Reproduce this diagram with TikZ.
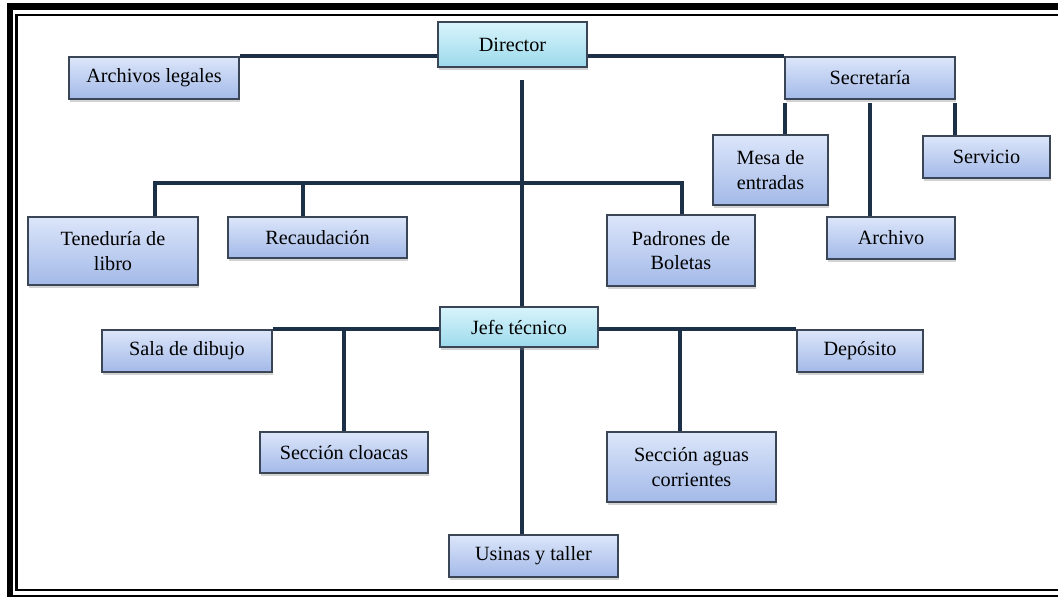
\documentclass[tikz,border=0pt]{standalone}
\usepackage{fontspec}
\setmainfont{Liberation Serif}
\usepackage{tikz}
\usetikzlibrary{positioning, calc, shadows, backgrounds}

\definecolor{linea}{HTML}{1C3048}
\definecolor{borde}{HTML}{3A4656}
\definecolor{azulA}{HTML}{DCE6FA}
\definecolor{azulB}{HTML}{A3B9E8}
\definecolor{cianA}{HTML}{D8F4FB}
\definecolor{cianB}{HTML}{9CDAEC}

\tikzset{
  caja/.style={draw=borde, line width=0.9pt, top color=azulA, bottom color=azulB,
    drop shadow={shadow xshift=0.6pt, shadow yshift=-1.6pt, opacity=0.35},
    align=center, inner sep=0pt, font=\fontsize{11.5}{14}\selectfont},
  jefe/.style={caja, top color=cianA, bottom color=cianB},
  rama/.style={draw=linea, line width=2.3pt}
}

\begin{document}
\begin{tikzpicture}[x=0.02cm, y=-0.02cm]
            \useasboundingbox (0,0) rectangle (1058,596);

            %marco
            \begin{scope}
              \clip (0,0) rectangle (1058,596);
              \draw[line width=3.8pt] (10,6.5) rectangle (1075,598);
              \draw[line width=1.3pt] (16.5,15) rectangle (1068,590);
            \end{scope}

            %cajas
            \node[jefe, minimum width=2.98cm, minimum height=0.9cm] (director) at (512.5,44.5) {Director};
            \node[caja, minimum width=3.4cm, minimum height=0.84cm] (archlegal) at (154,78) {Archivos legales};
            \node[caja, minimum width=3.4cm, minimum height=0.84cm] (secretaria) at (870,78) {Secretaría};
            \node[caja, minimum width=2.3cm, minimum height=1.4cm] (mesa) at (770.5,170) {Mesa de\\entradas};
            \node[caja, minimum width=2.54cm, minimum height=0.84cm] (servicio) at (986.5,157) {Servicio};
            \node[caja, minimum width=2.56cm, minimum height=0.84cm] (archivo) at (891,238) {Archivo};
            \node[caja, minimum width=3.4cm, minimum height=1.36cm] (teneduria) at (113,251) {Teneduría de\\libro};
            \node[caja, minimum width=3.58cm, minimum height=0.82cm] (recaudacion) at (317.5,237.5) {Recaudación};
            \node[caja, minimum width=2.96cm, minimum height=1.42cm] (padrones) at (681,250.5) {Padrones de\\Boletas};
            \node[jefe, minimum width=3.16cm, minimum height=0.8cm] (jefetec) at (519,327) {Jefe técnico};
            \node[caja, minimum width=3.4cm, minimum height=0.84cm] (sala) at (187,351) {Sala de dibujo};
            \node[caja, minimum width=3.36cm, minimum height=0.82cm] (cloacas) at (344,452.5) {Sección cloacas};
            \node[caja, minimum width=2.52cm, minimum height=0.84cm] (deposito) at (860,351) {Depósito};
            \node[caja, minimum width=3.38cm, minimum height=1.4cm] (aguas) at (691.5,467) {Sección aguas\\corrientes};
            \node[caja, minimum width=3.38cm, minimum height=0.84cm] (usinas) at (533.5,556) {Usinas y taller};

            %puntos de las ramas
            \coordinate (tronco) at (522,80);
            \coordinate (barra) at (0,183);
            \coordinate (tenup) at (155,0);
            \coordinate (recup) at (303,0);
            \coordinate (padup) at (682,0);
            \coordinate (secbajo) at (0,103);
            \coordinate (aguasup) at (680,0);

            %lineas
            \begin{scope}[on background layer]
              \draw[rama] (archlegal.north east) -- (secretaria.north west);
              \draw[rama] (tronco) -- (tronco |- usinas.north);
              \draw[rama] (tenup |- teneduria.north) -- (tenup |- barra) -- (padup |- barra) -- (padup |- padrones.north);
              \draw[rama] (recup |- barra) -- (recup |- recaudacion.north);
              \draw[rama] (secretaria.west |- secbajo) ++(1,0) -- ([xshift=0.02cm]secretaria.west |- mesa.north);
              \draw[rama] (secretaria.center |- secbajo) -- (secretaria.center |- archivo.north);
              \draw[rama] (secretaria.east |- secbajo) ++(-1,0) -- ([xshift=-0.02cm]secretaria.east |- servicio.north);
              \draw[rama] (sala.north east) -- (deposito.north west);
              \draw[rama] (cloacas.north |- sala.north) -- (cloacas.north);
              \draw[rama] (aguasup |- sala.north) -- (aguasup |- aguas.north);
            \end{scope}
        \end{tikzpicture}
\end{document}
